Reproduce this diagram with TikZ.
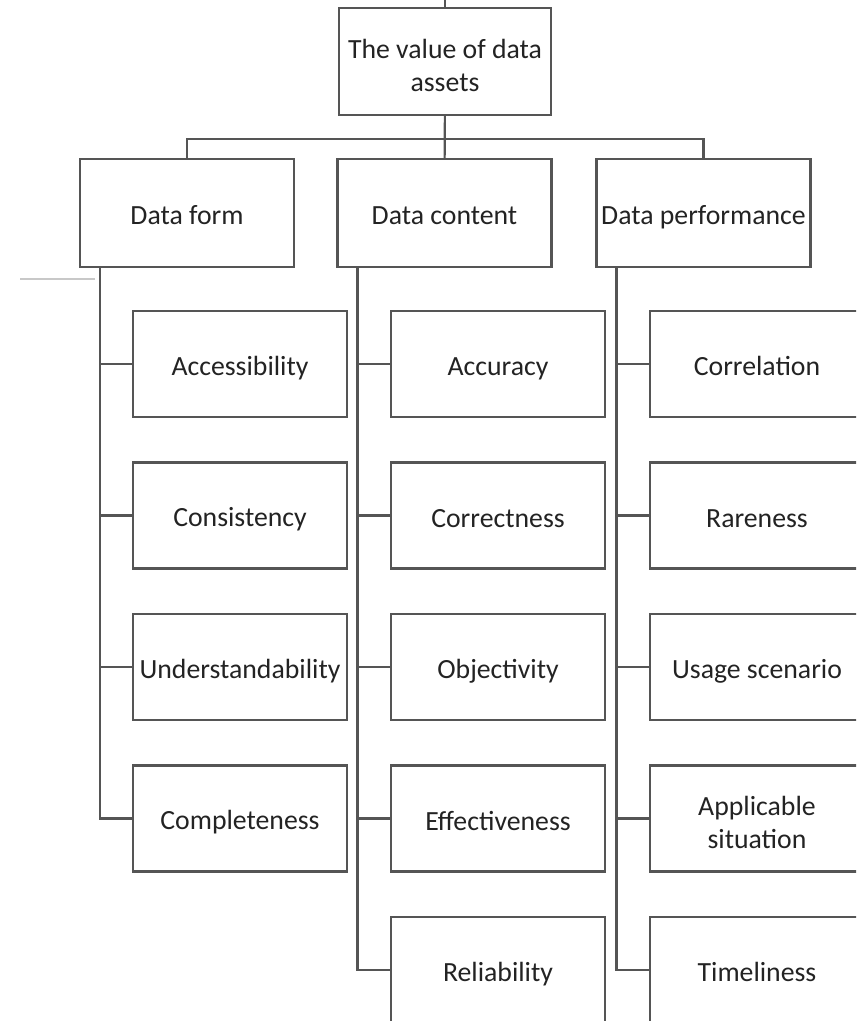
\documentclass[tikz,border=0pt]{standalone}
\usepackage{fontspec}
\setmainfont{Carlito}
\usetikzlibrary{positioning}
\definecolor{framegray}{RGB}{85,85,85}
\definecolor{textgray}{RGB}{35,35,35}
\definecolor{scangray}{RGB}{200,200,200}
\newcommand\boxstrut{\rule[-2.3pt]{0pt}{17.8pt}}
\newcommand\tallstrut{\rule[-2.3pt]{0pt}{19.8pt}}

\begin{document}
\begin{tikzpicture}[x=0.02cm, y=-0.02cm,
  box/.style={rectangle, draw=framegray, line width=1.2pt, text=textgray,
    font=\fontsize{15.8}{19}\selectfont, align=center, inner sep=0pt,
    minimum width=4.28cm, minimum height=2.12cm, execute at begin node=\boxstrut},
  link/.style={draw=framegray, line width=1.2pt}]
\clip (0,0) rectangle (856,1021);

% Root
\node[box, minimum width=4.24cm, minimum height=2.14cm] (root) at (445,61.5) {\tallstrut The value of data\\assets\boxstrut};
\coordinate (top) at (445,0);
\coordinate (bus) at (445,139);
\draw[link] (top) -- (root.north);

% Three aspects
\node[box, minimum height=2.16cm] (form) at (187,213) {Data form};
\node[box, minimum height=2.16cm] (content) at (444.5,213) {Data content};
\node[box, minimum height=2.16cm] (perf) at (703.5,213) {Data performance};

\draw[link] (root) -- (content);
\draw[link] (form.north) |- (bus) -| (perf.north);

% Data form items
\foreach \name/\txt [count=\i] in {acc/Accessibility, cons/Consistency, und/Understandability, compl/Completeness}
  \node[box] (\name) at (240,{364+151.5*(\i-1)}) {\txt};

% Data content items
\foreach \name/\txt [count=\i] in {accu/Accuracy, corr/Correctness, obj/Objectivity, eff/Effectiveness, rel/Reliability}
  \node[box] (\name) at (498,{364+151.5*(\i-1)}) {\txt};

% Data performance items
\foreach \name/\txt [count=\i] in {cor/Correlation, rare/Rareness, usage/Usage scenario, appl/{\tallstrut Applicable\\situation\boxstrut}, time/Timeliness}
  \node[box] (\name) at (757,{364+151.5*(\i-1)}) {\txt};

% Spines
\foreach \name in {acc, cons, und, compl}
  \draw[link] ([xshift=0.42cm]form.south west) |- (\name.west);
\foreach \name in {accu, corr, obj, eff, rel}
  \draw[link] ([xshift=0.42cm]content.south west) |- (\name.west);
\foreach \name in {cor, rare, usage, appl, time}
  \draw[link] ([xshift=0.42cm]perf.south west) |- (\name.west);

% scan mark
\draw[scangray, line width=0.6pt] (20,279) -- (95,279);
\end{tikzpicture}
\end{document}
